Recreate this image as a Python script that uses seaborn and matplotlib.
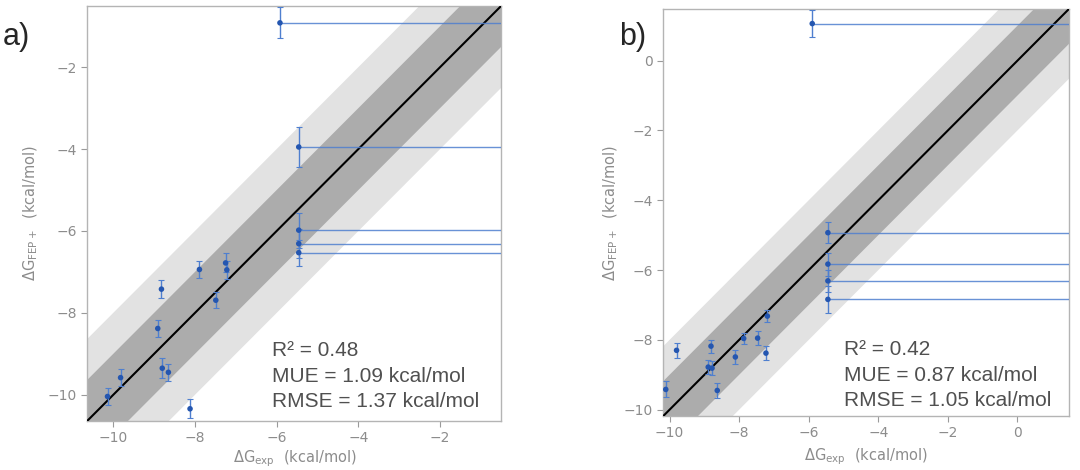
import numpy as np
import pandas as pd
import seaborn as sns
import matplotlib.pyplot as plt

# ---- panel a) ----
exp_a = [-5.92, -5.46, -5.46, -5.46, -5.46, -7.89, -7.25, -7.22, -7.49, -8.82,
         -8.91, -8.80, -8.65, -9.82, -10.14, -8.12]
fep_a = [-0.92, -3.95, -5.98, -6.31, -6.53, -6.94, -6.78, -6.95, -7.69, -7.42,
         -8.38, -9.35, -9.45, -9.58, -10.04, -10.34]
err_a = [0.38, 0.48, 0.43, 0.35, 0.32, 0.20, 0.23, 0.22, 0.20, 0.22,
         0.21, 0.24, 0.21, 0.21, 0.20, 0.23]
bound_a = [1, 1, 1, 1, 1, 0, 0, 0, 0, 0, 0, 0, 0, 0, 0, 0]
stats_a = ["R² = 0.48", "MUE = 1.09 kcal/mol", "RMSE = 1.37 kcal/mol"]
lims_a = (-10.63, -0.5)
ticks_a = [-10, -8, -6, -4, -2]

# ---- panel b) ----
exp_b = [-5.90, -5.45, -5.45, -5.45, -5.45, -10.11, -9.80, -8.81, -8.89, -8.78,
         -8.63, -8.11, -7.87, -7.47, -7.23, -7.19]
fep_b = [1.06, -4.93, -5.83, -6.31, -6.84, -9.42, -8.30, -8.18, -8.78, -8.81,
         -9.45, -8.49, -7.96, -7.95, -8.38, -7.32]
err_b = [0.39, 0.30, 0.33, 0.32, 0.38, 0.23, 0.21, 0.19, 0.19, 0.19,
         0.21, 0.19, 0.17, 0.19, 0.20, 0.17]
bound_b = [1, 1, 1, 1, 1, 0, 0, 0, 0, 0, 0, 0, 0, 0, 0, 0]
stats_b = ["R² = 0.42", "MUE = 0.87 kcal/mol", "RMSE = 1.05 kcal/mol"]
lims_b = (-10.18, 1.48)
ticks_b = [-10, -8, -6, -4, -2, 0]

sns.set_style("ticks")
plt.rcParams['font.family'] = ['DejaVu Sans']

GRAY_TXT = '#8c8c8c'
DOT = '#2456b0'
BAR = '#4f7fcf'

fig = plt.figure(figsize=(10.8, 4.7), dpi=100)
ax_a = fig.add_axes([0.081, 0.105, 0.3833, 0.883])
ax_b = fig.add_axes([0.6142, 0.115, 0.3756, 0.866])


def draw_panel(ax, exp, fep, err, bound, stats, lims, ticks, txt_y, ylab_x, xlab_y):
    df = pd.DataFrame({'exp': exp, 'fep': fep, 'err': err, 'bound': bound})
    lo, hi = lims
    xx = np.array([lo - 2, hi + 2])
    ax.fill_between(xx, xx - 2, xx + 2, color='#e2e2e2', lw=0, zorder=1)
    ax.fill_between(xx, xx - 1, xx + 1, color='#acacac', lw=0, zorder=2)
    sns.lineplot(x=xx, y=xx, color='black', lw=1.5, ax=ax, zorder=3)

    # experimental values that are only limits: line to the right edge
    lim_df = df[df['bound'] == 1]
    ax.errorbar(lim_df['exp'], lim_df['fep'],
                xerr=[np.zeros(len(lim_df)), np.full(len(lim_df), 30.0)],
                fmt='none', ecolor=BAR, elinewidth=1.0, capsize=0, alpha=0.85, zorder=4)
    ax.errorbar(df['exp'], df['fep'], yerr=df['err'], fmt='none', ecolor=BAR,
                elinewidth=1.0, capsize=2, capthick=0.8, zorder=4)
    sns.scatterplot(data=df, x='exp', y='fep', color=DOT, s=16, edgecolor='none',
                    ax=ax, zorder=5)

    ax.set_xlim(lo, hi)
    ax.set_ylim(lo, hi)
    ax.set_xticks(ticks)
    ax.set_yticks(ticks)
    ax.tick_params(colors='#9a9a9a', labelcolor=GRAY_TXT, labelsize=10, length=4, width=0.8)
    for s in ax.spines.values():
        s.set_color('#b4b4b4')
        s.set_linewidth(1.0)

    ax.set_xlabel(r'$\Delta\mathrm{G}_{\mathrm{exp}}$  (kcal/mol)', color=GRAY_TXT, fontsize=10.5)
    ax.set_ylabel(r'$\Delta\mathrm{G}_{\mathrm{FEP+}}$  (kcal/mol)', color=GRAY_TXT, fontsize=10.5)
    ax.xaxis.set_label_coords(0.5, xlab_y)
    ax.yaxis.set_label_coords(ylab_x, 0.5)

    for line, yy in zip(stats, txt_y):
        ax.text(0.446, yy, line, transform=ax.transAxes, ha='left', va='baseline',
                fontsize=15, color='#505050', family=['Liberation Sans', 'DejaVu Sans'], zorder=6)


draw_panel(ax_a, exp_a, fep_a, err_a, bound_a, stats_a, lims_a, ticks_a,
           [0.156, 0.094, 0.033], -0.115, -0.068)
draw_panel(ax_b, exp_b, fep_b, err_b, bound_b, stats_b, lims_b, ticks_b,
           [0.149, 0.087, 0.025], -0.107, -0.074)

fig.text(0.003, 0.904, 'a)', fontsize=22, va='baseline', ha='left',
         family=['Liberation Sans', 'DejaVu Sans'])
fig.text(0.573, 0.904, 'b)', fontsize=22, va='baseline', ha='left',
         family=['Liberation Sans', 'DejaVu Sans'])

fig.savefig('out.png', dpi=100)
